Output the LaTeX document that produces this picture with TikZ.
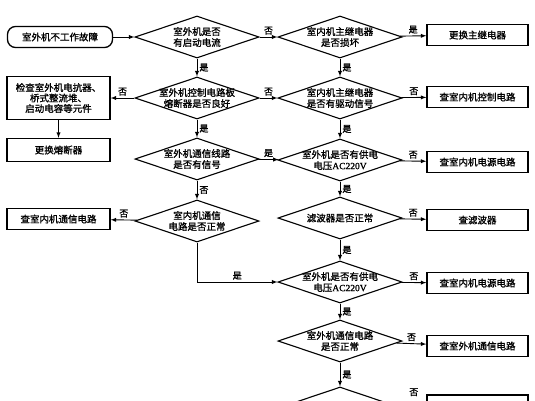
\documentclass[tikz,border=0pt]{standalone}
\usepackage{fontspec}
\setmainfont{Noto Sans CJK SC}[FakeBold=1.2]
\newfontfamily\latinfont{Liberation Serif}[FakeBold=1.2]
\usetikzlibrary{shapes.geometric}

\tikzset{
  startbox/.style={draw, line width=1.3pt, rounded corners=8pt, minimum width=105pt, minimum height=21pt, inner sep=0pt, font=\fontsize{9.5}{11}\selectfont},
  actbox/.style={draw, line width=1.3pt, minimum width=101pt, minimum height=21pt, inner sep=0pt, align=center, font=\fontsize{9.5}{10.5}\selectfont},
  decide/.style={draw, diamond, line width=1.1pt, minimum width=124pt, minimum height=42pt, inner sep=0pt},
  every label/.style={align=center, inner sep=0pt, font=\fontsize{9.5}{11}\selectfont},
  flow/.style={->, >=latex, line width=0.9pt},
  ans/.style={font=\fontsize{9}{10}\selectfont, inner sep=2pt},
}

\begin{document}
\begin{tikzpicture}[x=1pt,y=-1pt]
\useasboundingbox (0,0) rectangle (535,400);
\clip (0,0) rectangle (535,400);
% Row 1
\node[startbox] (start) at (60,37) {室外机不工作故障};
\node[decide, label={center:室外机是否\\有启动电流}] (d1) at (197,37) {};
\node[decide, label={center:室内机主继电器\\是否损坏}] (d2) at (340,37) {};
\node[actbox] (b1) at (477.5,35) {更换主继电器};
% Row 2
\node[actbox, minimum width=103pt, minimum height=43pt] (bl1) at (58.5,98) {检查室外机电抗器、\\桥式整流堆、\\启动电容等元件};
\node[decide, label={center:室外机控制电路板\\熔断器是否良好}] (d3) at (197,98) {};
\node[decide, label={center:室内机主继电器\\是否有驱动信号}] (d4) at (340,98) {};
\node[actbox] (b2) at (477.5,97) {查室内机控制电路};
\node[actbox, minimum width=103pt, minimum height=23pt] (bl2) at (58.5,150) {更换熔断器};
% Row 3
\node[decide, label={center:室外机通信线路\\是否有信号}] (d5) at (197,159) {};
\node[decide, label={center:室外机是否有供电\\电压{\latinfont AC220V}}] (d6) at (340,160) {};
\node[actbox] (b3) at (477.5,162) {查室内机电源电路};
% Row 4
\node[actbox, minimum width=103pt] (bl3) at (58.5,219) {查室内机通信电路};
\node[decide, label={center:室内机通信\\电路是否正常}] (d7) at (197,221) {};
\node[decide, label={center:滤波器是否正常}] (d8) at (340,218) {};
\node[actbox] (b4) at (477.5,220) {查滤波器};
% Row 5
\node[decide, label={center:室外机是否有供电\\电压{\latinfont AC220V}}] (d9) at (340,282) {};
\node[actbox] (b5) at (477.5,283) {查室内机电源电路};
% Row 6
\node[decide, label={center:室外机通信电路\\是否正常}] (d10) at (340,341) {};
\node[actbox] (b6) at (477.5,346) {查室外机通信电路};
% Row 7 (cut off at the bottom)
\node[decide] (d11) at (340,408) {};
\node[actbox, minimum height=24pt] (b7) at (477.5,407) {};
% Connectors
\draw[flow] (start) -- (d1);
\draw[flow] (d1) -- node[ans, above] {否} (d2);
\draw[flow] (d2) -- node[ans, above] {是} (b1);
\draw[flow] (d1) -- node[ans, right] {是} (d3);
\draw[flow] (d2) -- node[ans, right] {是} (d4);
\draw[flow] (d3) -- node[ans, above] {否} (bl1);
\draw[flow] (d3) -- node[ans, above] {否} (d4);
\draw[flow] (d4) -- node[ans, above] {否} (b2);
\draw[flow] (bl1) -- (bl2);
\draw[flow] (d3) -- node[ans, right] {是} (d5);
\draw[flow] (d4) -- node[ans, right] {是} (d6);
\draw[flow] (d5) -- node[ans, above] {是} (d6);
\draw[flow] (d6) -- node[ans, above] {否} (b3);
\draw[flow] (d5) -- node[ans, right] {否} (d7);
\draw[flow] (d6) -- node[ans, right] {是} (d8);
\draw[flow] (d7) -- node[ans, above] {否} (bl3);
\draw[flow] (d8) -- node[ans, above] {否} (b4);
\draw[flow] (d7.south) |- node[ans, pos=0.75, above] {是} (d9.west);
\draw[flow] (d8) -- node[ans, right] {是} (d9);
\draw[flow] (d9) -- node[ans, above] {否} (b5);
\draw[flow] (d9) -- node[ans, right] {是} (d10);
\draw[flow] (d10) -- node[ans, above] {否} (b6);
\draw[flow] (d10) -- node[ans, right] {是} (d11);
\draw[flow] (d11) -- node[ans, above, yshift=9pt] {否} (b7);
\end{tikzpicture}
\end{document}
